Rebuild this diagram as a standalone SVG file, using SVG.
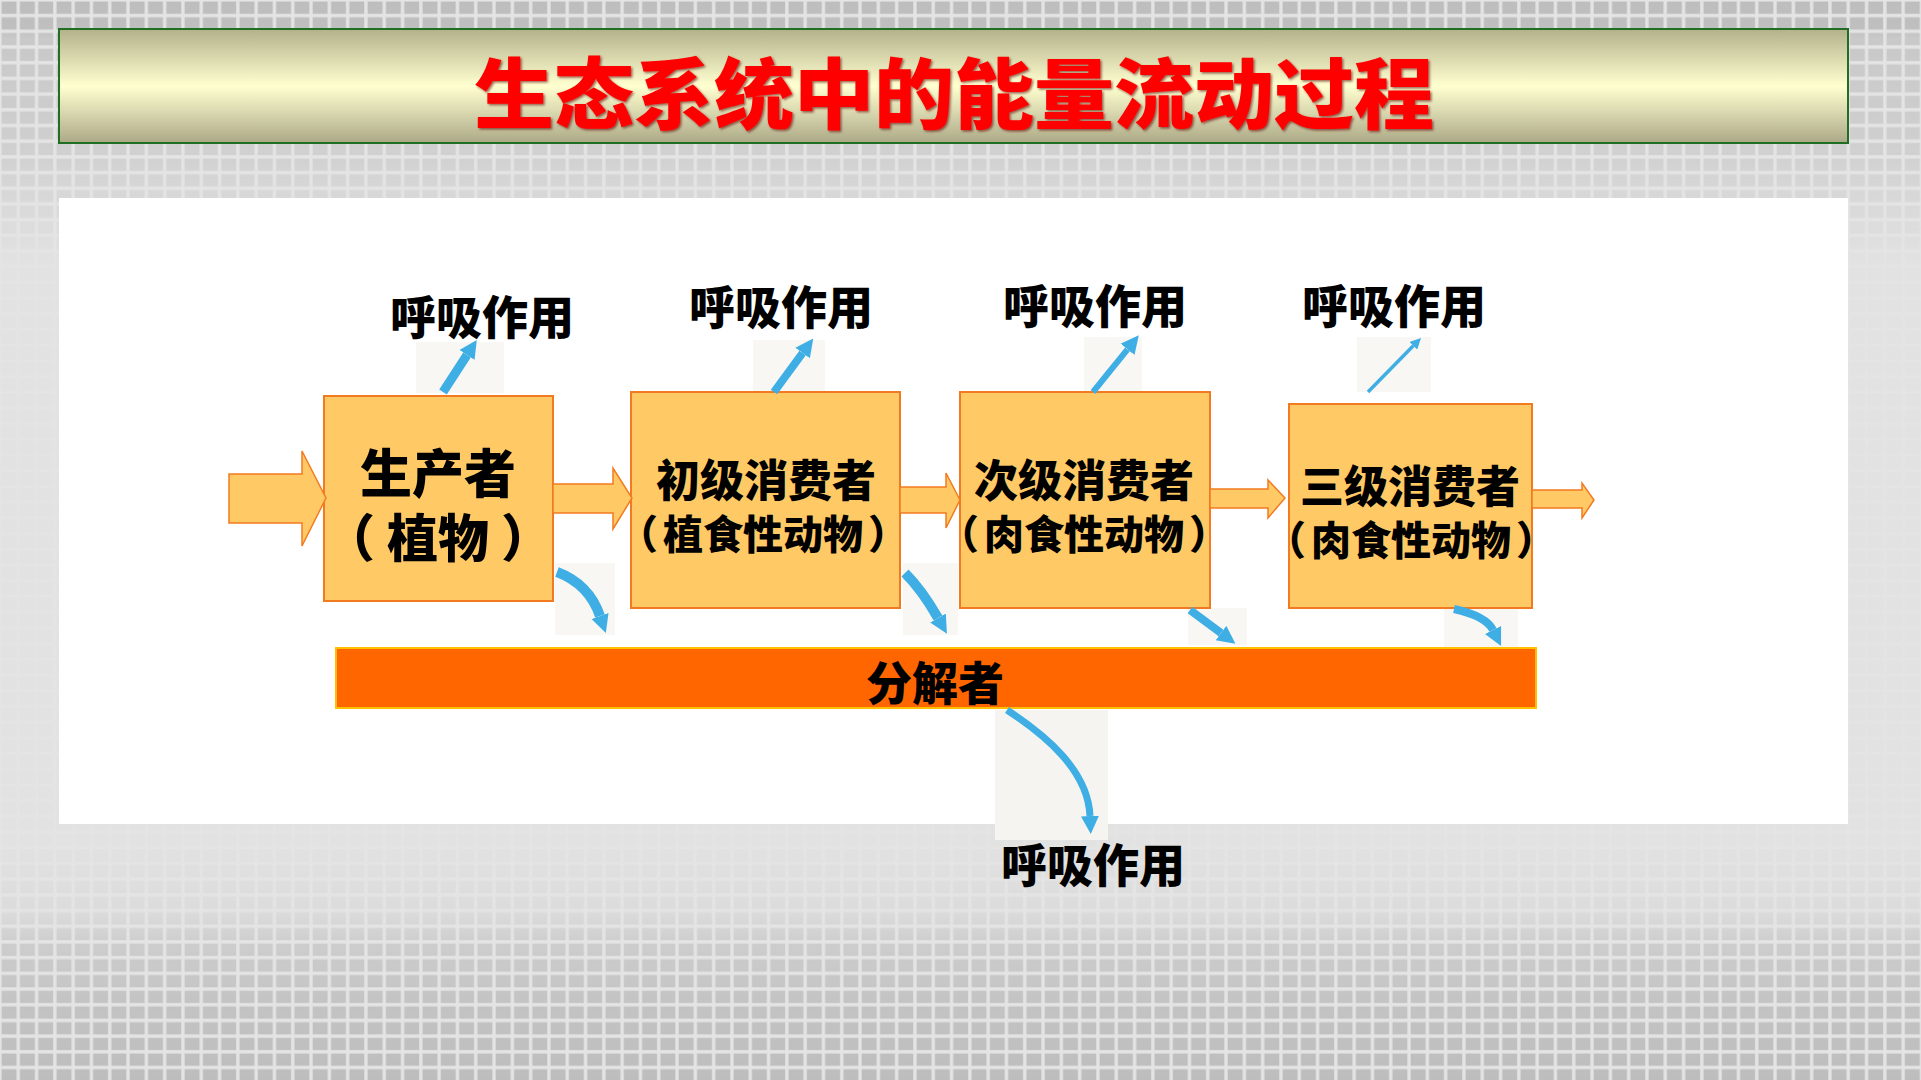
<svg xmlns="http://www.w3.org/2000/svg" width="1921" height="1080" viewBox="0 0 1921 1080">
  <defs>
    <style>
      .lbl { font-family: "Noto Sans CJK SC", "Noto Sans", sans-serif; font-weight: 900; fill: #000; text-anchor: middle; dominant-baseline: central; }
      .box { fill: #FFC966; stroke: #F27B21; stroke-width: 2; }
      .oarrow { fill: #FFC966; stroke: #F27B21; stroke-width: 1.5; stroke-linejoin: miter; }
      .barrow { fill: none; stroke: #3FAEE5; stroke-linecap: butt; }
      .patch { fill: #F2F0EB; opacity: 0.55; }
    </style>
    <pattern id="tiles" x="0" y="0" width="18.3" height="15.7" patternUnits="userSpaceOnUse">
      <rect x="1.6" y="1.6" width="15" height="12.3" fill="#BDBDBD"/>
    </pattern>
    <linearGradient id="fade" x1="0" y1="0" x2="0" y2="1080" gradientUnits="userSpaceOnUse">
      <stop offset="0" stop-color="#fff" stop-opacity="1"/>
      <stop offset="0.028" stop-color="#fff" stop-opacity="0.95"/>
      <stop offset="0.035" stop-color="#fff" stop-opacity="0.7"/>
      <stop offset="0.13" stop-color="#fff" stop-opacity="0.55"/>
      <stop offset="0.185" stop-color="#fff" stop-opacity="0.3"/>
      <stop offset="0.24" stop-color="#fff" stop-opacity="0.05"/>
      <stop offset="0.78" stop-color="#fff" stop-opacity="0.04"/>
      <stop offset="0.845" stop-color="#fff" stop-opacity="0.22"/>
      <stop offset="0.875" stop-color="#fff" stop-opacity="0.6"/>
      <stop offset="0.93" stop-color="#fff" stop-opacity="0.85"/>
      <stop offset="1" stop-color="#fff" stop-opacity="1"/>
    </linearGradient>
    <mask id="tileMask">
      <rect width="1921" height="1080" fill="url(#fade)"/>
    </mask>
    <linearGradient id="titleGrad" x1="0" y1="0" x2="0" y2="1">
      <stop offset="0" stop-color="#B3B18A"/>
      <stop offset="0.5" stop-color="#FFFFD0"/>
      <stop offset="1" stop-color="#ACA987"/>
    </linearGradient>
    <filter id="shadow" x="-5%" y="-20%" width="110%" height="140%">
      <feDropShadow dx="1.5" dy="1.5" stdDeviation="0.8" flood-color="#600000" flood-opacity="0.6"/>
    </filter>
    <marker id="head" viewBox="0 0 10 10" refX="0" refY="5" markerWidth="18" markerHeight="20" markerUnits="userSpaceOnUse" orient="auto">
      <path d="M0,0 L10,5 L0,10 z" fill="#3FAEE5"/>
    </marker>
    <marker id="headSmall" viewBox="0 0 10 10" refX="0" refY="5" markerWidth="11" markerHeight="11" markerUnits="userSpaceOnUse" orient="auto">
      <path d="M0,0 L10,5 L0,10 z" fill="#3FAEE5"/>
    </marker>
  </defs>

  <!-- background -->
  <rect width="1921" height="1080" fill="#E4E4E4"/>
  <rect width="1921" height="1080" fill="url(#tiles)" mask="url(#tileMask)"/>

  <!-- title bar -->
  <g id="title">
    <rect x="59" y="29" width="1789" height="114" fill="url(#titleGrad)" stroke="#1F6E24" stroke-width="2"/>
    <text x="954" y="89" font-family="'Noto Sans CJK SC', sans-serif" font-weight="900" font-size="77" fill="#FF0000" text-anchor="middle" dominant-baseline="central" textLength="960" lengthAdjust="spacingAndGlyphs" filter="url(#shadow)">生态系统中的能量流动过程</text>
  </g>

  <!-- white panel -->
  <rect x="59" y="198" width="1789" height="626" fill="#FFFFFF"/>

  <!-- scanned patches behind blue arrows -->
  <g id="patches">
    <rect class="patch" x="416" y="342" width="88" height="51"/>
    <rect class="patch" x="753" y="340" width="72" height="52"/>
    <rect class="patch" x="1084" y="337" width="58" height="55"/>
    <rect class="patch" x="1357" y="337" width="74" height="55"/>
    <rect class="patch" x="555" y="563" width="60" height="72"/>
    <rect class="patch" x="903" y="563" width="55" height="72"/>
    <rect class="patch" x="1188" y="608" width="59" height="37"/>
    <rect class="patch" x="1444" y="608" width="74" height="39"/>
    <rect x="995" y="710" width="113" height="130" fill="#F5F4F1"/>
  </g>

  <!-- nodes -->
  <g id="producer">
    <rect class="box" x="324" y="396" width="229" height="205"/>
    <text class="lbl" font-size="52"><tspan x="438" y="470">生产者</tspan><tspan x="438" y="535" font-size="51">（</tspan><tspan dx="12" font-size="51">植物</tspan><tspan dx="12" font-size="51">）</tspan></text>
  </g>
  <g id="primary-consumer">
    <rect class="box" x="631" y="392" width="269" height="216"/>
    <text class="lbl" font-size="44"><tspan x="766" y="478">初级消费者</tspan><tspan x="763" y="532" font-size="40">（</tspan><tspan dx="5" font-size="40">植食性动物</tspan><tspan dx="5" font-size="40">）</tspan></text>
  </g>
  <g id="secondary-consumer">
    <rect class="box" x="960" y="392" width="250" height="216"/>
    <text class="lbl" font-size="44"><tspan x="1084" y="478">次级消费者</tspan><tspan x="1084" y="532" font-size="40">（</tspan><tspan dx="5" font-size="40">肉食性动物</tspan><tspan dx="5" font-size="40">）</tspan></text>
  </g>
  <g id="tertiary-consumer">
    <rect class="box" x="1289" y="404" width="243" height="204"/>
    <text class="lbl" font-size="44"><tspan x="1410" y="484">三级消费者</tspan><tspan x="1411" y="538" font-size="40">（</tspan><tspan dx="5" font-size="40">肉食性动物</tspan><tspan dx="5" font-size="40">）</tspan></text>
  </g>
  <g id="decomposer">
    <rect x="336" y="648" width="1200" height="60" fill="#FF6600" stroke="#FFC000" stroke-width="2"/>
    <text class="lbl" x="935" y="680" font-size="46">分解者</text>
  </g>
  <g id="resp-labels">
    <text class="lbl" x="482" y="314" font-size="46">呼吸作用</text>
    <text class="lbl" x="781" y="304" font-size="46">呼吸作用</text>
    <text class="lbl" x="1095" y="303" font-size="46">呼吸作用</text>
    <text class="lbl" x="1394" y="303" font-size="46">呼吸作用</text>
    <text class="lbl" x="1093" y="862" font-size="46">呼吸作用</text>
  </g>

  <!-- connectors -->
  <g id="connectors">
    <polygon class="oarrow" points="229,474 302,474 302,451 326,498 302,546 302,523 229,523"/>
    <polygon class="oarrow" points="553,484 613,484 613,468 632,498 613,529 613,513 553,513"/>
    <polygon class="oarrow" points="900,487 946,487 946,473 960,500 946,528 946,513 900,513"/>
    <polygon class="oarrow" points="1210,489 1268,489 1268,480 1285,498 1268,518 1268,508 1210,508"/>
    <polygon class="oarrow" points="1532,490 1582,490 1582,483 1594,500 1582,518 1582,508 1532,508"/>

    <path class="barrow" stroke-width="9" d="M443,392 L467,355" marker-end="url(#head)"/>
    <path class="barrow" stroke-width="8" d="M774,392 L802.6,353" marker-end="url(#head)"/>
    <path class="barrow" stroke-width="6" d="M1093,392 L1127.5,349.3" marker-end="url(#head)"/>
    <path class="barrow" stroke-width="3.5" d="M1368,392 L1413.3,345.8" marker-end="url(#headSmall)"/>

    <path class="barrow" stroke-width="10" d="M557,572 Q589,584 600,616" marker-end="url(#head)"/>
    <path class="barrow" stroke-width="10" d="M905,573 Q922,590 938,618" marker-end="url(#head)"/>
    <path class="barrow" stroke-width="8" d="M1190,610 L1221,633" marker-end="url(#head)"/>
    <path class="barrow" stroke-width="8" d="M1454,609 Q1486,616 1493,630" marker-end="url(#head)"/>
    <path class="barrow" stroke-width="7" d="M1007,710 C1045,735 1088,770 1090,816" marker-end="url(#head)"/>
  </g>
</svg>
